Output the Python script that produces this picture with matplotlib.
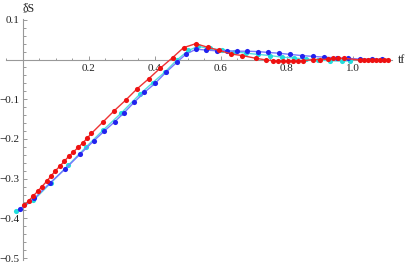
import matplotlib
matplotlib.use("Agg")
import matplotlib.pyplot as plt
from matplotlib.ticker import MultipleLocator, FixedLocator

plt.rcParams["font.family"] = ["Liberation Serif", "DejaVu Serif"]

# values
red_x = [0.004, 0.018, 0.031, 0.045, 0.058, 0.072, 0.086, 0.099, 0.113, 0.126,
         0.139, 0.153, 0.168, 0.182, 0.195, 0.208, 0.242, 0.277, 0.312, 0.346,
         0.382, 0.416, 0.454, 0.487, 0.524, 0.560, 0.595, 0.631, 0.665, 0.707,
         0.737, 0.758, 0.774, 0.789, 0.804, 0.819, 0.834, 0.849, 0.880, 0.901,
         0.925, 0.940, 0.955, 0.974, 1.022, 1.034, 1.046, 1.058, 1.071, 1.083,
         1.095, 1.107]
red_y = [-0.367, -0.356, -0.344, -0.332, -0.320, -0.307, -0.293, -0.280, -0.268, -0.256,
         -0.244, -0.233, -0.221, -0.210, -0.198, -0.186, -0.158, -0.129, -0.102, -0.074,
         -0.048, -0.022, 0.005, 0.030, 0.040, 0.031, 0.023, 0.014, 0.010, 0.003,
         -0.001, -0.003, -0.004, -0.004, -0.004, -0.004, -0.004, -0.003, 0.000, 0.000,
         0.001, 0.003, 0.003, 0.003, -0.001, -0.001, -0.001, -0.001, -0.001, -0.001,
         -0.001, -0.001]

blue_x = [-0.008, 0.035, 0.081, 0.128, 0.174, 0.216, 0.246, 0.278, 0.307, 0.337,
          0.368, 0.401, 0.434, 0.468, 0.495, 0.525, 0.555, 0.588, 0.618, 0.648,
          0.680, 0.714, 0.742, 0.775, 0.810, 0.845, 0.879, 0.913, 0.952, 0.986,
          1.022, 1.058, 1.088]
blue_y = [-0.376, -0.350, -0.312, -0.276, -0.238, -0.204, -0.181, -0.157, -0.134, -0.108,
          -0.083, -0.060, -0.032, -0.006, 0.014, 0.026, 0.024, 0.022, 0.022, 0.021,
          0.021, 0.020, 0.018, 0.016, 0.013, 0.010, 0.008, 0.006, 0.004, 0.003,
          0.001, 0.001, 0.001]

cyan_x = [-0.021, 0.032, 0.086, 0.138, 0.192, 0.243, 0.298, 0.355, 0.394, 0.431,
          0.467, 0.502, 0.531, 0.568, 0.604, 0.640, 0.677, 0.713, 0.749, 0.786,
          0.822, 0.858, 0.895, 0.931, 0.967, 0.991]
cyan_y = [-0.382, -0.355, -0.310, -0.266, -0.220, -0.178, -0.135, -0.087, -0.058, -0.031,
          -0.001, 0.023, 0.033, 0.028, 0.024, 0.020, 0.016, 0.013, 0.010, 0.006,
          0.004, 0.001, -0.001, -0.003, -0.004, -0.003]

x_ticks = [0.2, 0.4, 0.6, 0.8, 1.0]
x_tick_labels = ["0.2", "0.4", "0.6", "0.8", "1.0"]
y_ticks = [0.1, -0.1, -0.2, -0.3, -0.4, -0.5]
y_tick_labels = ["0.1", "\u22120.1", "\u22120.2", "\u22120.3", "\u22120.4", "\u22120.5"]

fig = plt.figure(figsize=(4.09, 2.64), dpi=100)
ax = fig.add_axes([0, 0, 1, 1])
ax.set_xlim(-0.069, 1.17)
ax.set_ylim(-0.515, 0.15)

ax.plot(cyan_x, cyan_y, color="#55dddd", lw=1.0, marker="o", ms=3.7,
        mfc="#22dddd", mec="none", zorder=3)
ax.plot(blue_x, blue_y, color="#7777ff", lw=1.0, marker="o", ms=3.7,
        mfc="#2222ee", mec="none", zorder=4)
ax.plot(red_x, red_y, color="#ee3333", lw=1.0, marker="o", ms=3.7,
        mfc="#ee1111", mec="none", zorder=5)

for side in ["top", "right"]:
    ax.spines[side].set_visible(False)
ax.spines["left"].set_position(("data", 0))
ax.spines["bottom"].set_position(("data", 0))
ax.spines["left"].set_bounds(-0.505, 0.102)
ax.spines["bottom"].set_bounds(-0.05, 1.12)
for side in ["left", "bottom"]:
    ax.spines[side].set_color("#999999")
    ax.spines[side].set_linewidth(0.8)

ax.xaxis.set_major_locator(FixedLocator(x_ticks))
ax.set_xticklabels(x_tick_labels)
ax.xaxis.set_minor_locator(MultipleLocator(0.05))
ax.yaxis.set_major_locator(FixedLocator(y_ticks))
ax.set_yticklabels(y_tick_labels)
ax.yaxis.set_minor_locator(MultipleLocator(0.02))

ax.tick_params(which="both", direction="in", color="#999999", width=0.7,
               labelsize=8, labelcolor="#222222")
ax.tick_params(which="major", length=3.2)
ax.tick_params(which="minor", length=1.8)
ax.tick_params(axis="x", which="major", pad=3)
ax.tick_params(axis="y", which="major", pad=2.5)

ax.text(1.135, 0.0, "tf", fontsize=8.5, ha="left", va="center", color="#222222")
ax.text(0.0, 0.127, "\u03b4S", fontsize=8.5, ha="left", va="center", color="#222222")

fig.savefig("out.png", dpi=100)
